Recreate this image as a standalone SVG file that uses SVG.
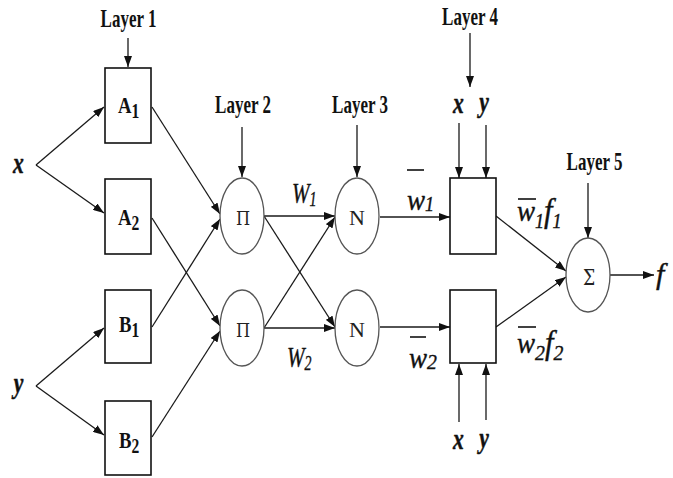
<svg xmlns="http://www.w3.org/2000/svg" width="673" height="478" viewBox="0 0 673 478">
<defs>
<marker id="ah" markerUnits="userSpaceOnUse" markerWidth="11" markerHeight="8" refX="11" refY="4" orient="auto">
<path d="M0,0 L11,4 L0,8 Z" fill="#111"/>
</marker>
<style>
.c{stroke:#1a1a1a;stroke-width:1.3;fill:none;marker-end:url(#ah)}
.bx{stroke:#111;stroke-width:1.6;fill:#fff}
.el{stroke:#555;stroke-width:1.3;fill:#fff}
.ly{font-family:"Liberation Serif",serif;font-weight:bold;font-size:25px;fill:#111;text-anchor:middle}
.b{font-family:"Liberation Serif",serif;font-weight:bold;font-size:24px;fill:#111}
.r{font-family:"Liberation Serif",serif;font-size:22px;fill:#222;text-anchor:middle}
.g{font-family:"DejaVu Serif","Liberation Serif",serif;fill:#222;text-anchor:middle}
.i{font-family:"Liberation Serif",serif;font-style:italic;font-size:30px;fill:#111;stroke:#111;stroke-width:0.4}
.bi{font-family:"Liberation Serif",serif;font-style:italic;font-weight:bold;font-size:30px;fill:#111;stroke:#111;stroke-width:0.5;text-anchor:middle}
.bar{stroke:#111;stroke-width:1.6}
</style>
</defs>
<g id="connectors">
<line class="c" x1="36" y1="165" x2="104" y2="107"/>
<line class="c" x1="36" y1="165" x2="104" y2="213"/>
<line class="c" x1="36" y1="386" x2="104" y2="328"/>
<line class="c" x1="36" y1="386" x2="104" y2="435"/>
<line class="c" x1="128" y1="38" x2="128" y2="67"/>
<line class="c" x1="152" y1="107" x2="220" y2="214"/>
<line class="c" x1="152" y1="218" x2="220" y2="326"/>
<line class="c" x1="152" y1="327" x2="220" y2="219"/>
<line class="c" x1="152" y1="437" x2="220" y2="331"/>
<line class="c" x1="242" y1="127" x2="242" y2="177"/>
<line class="c" x1="357" y1="125" x2="357" y2="177"/>
<line class="c" x1="264" y1="216" x2="335" y2="216"/>
<line class="c" x1="264" y1="216" x2="335" y2="327"/>
<line class="c" x1="264" y1="328" x2="335" y2="217"/>
<line class="c" x1="264" y1="328" x2="335" y2="328"/>
<line class="c" x1="380" y1="217" x2="450" y2="217"/>
<line class="c" x1="380" y1="327" x2="450" y2="327"/>
<line class="c" x1="470" y1="33" x2="470" y2="87"/>
<line class="c" x1="459" y1="123" x2="459" y2="178"/>
<line class="c" x1="486" y1="125" x2="486" y2="178"/>
<line class="c" x1="459" y1="422" x2="459" y2="364"/>
<line class="c" x1="486" y1="420" x2="486" y2="364"/>
<line class="c" x1="496" y1="216" x2="566" y2="271"/>
<line class="c" x1="496" y1="327" x2="566" y2="277"/>
<line class="c" x1="588" y1="183" x2="588" y2="238"/>
<line class="c" x1="610" y1="275" x2="654" y2="275"/>
</g>
<g id="A1"><rect class="bx" x="105" y="68" width="46" height="75"/><text class="b" transform="matrix(0.78,0,0,1,118,113)">A<tspan font-size="20" dy="5">1</tspan></text></g>
<g id="A2"><rect class="bx" x="105" y="179" width="46" height="75"/><text class="b" transform="matrix(0.78,0,0,1,118,225)">A<tspan font-size="20" dy="5">2</tspan></text></g>
<g id="B1"><rect class="bx" x="105" y="290" width="46" height="73"/><text class="b" transform="matrix(0.78,0,0,1,119,332)">B<tspan font-size="20" dy="5">1</tspan></text></g>
<g id="B2"><rect class="bx" x="105" y="401" width="46" height="74"/><text class="b" transform="matrix(0.78,0,0,1,119,448)">B<tspan font-size="20" dy="5">2</tspan></text></g>
<g id="P1"><ellipse class="el" cx="242" cy="216" rx="22" ry="38"/><text class="g" font-size="18" transform="matrix(0.9,0,0,1,243,225)">Π</text></g>
<g id="P2"><ellipse class="el" cx="242" cy="328" rx="22" ry="38"/><text class="g" font-size="18" transform="matrix(0.9,0,0,1,243,337)">Π</text></g>
<g id="N1"><ellipse class="el" cx="357" cy="216" rx="22" ry="38"/><text class="r" x="357" y="225">N</text></g>
<g id="N2"><ellipse class="el" cx="357" cy="328" rx="22" ry="38"/><text class="r" x="357" y="337">N</text></g>
<g id="R1"><rect class="bx" x="450" y="178" width="46" height="76"/></g>
<g id="R2"><rect class="bx" x="450" y="290" width="46" height="73"/></g>
<g id="S"><ellipse class="el" cx="588" cy="275" rx="22" ry="37"/><text class="g" font-size="23" transform="matrix(0.75,0,0,1,589,285)">Σ</text></g>
<g id="labels">
<text class="ly" transform="matrix(0.68,0,0,1,128.5,27)">Layer 1</text>
<text class="ly" transform="matrix(0.68,0,0,1,243,113)">Layer 2</text>
<text class="ly" transform="matrix(0.68,0,0,1,360,113)">Layer 3</text>
<text class="ly" transform="matrix(0.68,0,0,1,470,25)">Layer 4</text>
<text class="ly" transform="matrix(0.68,0,0,1,594.5,170)">Layer 5</text>
<text class="bi" transform="matrix(0.72,0,0,1,18.5,173)">x</text>
<text class="bi" transform="matrix(0.72,0,0,1,18.5,393)">y</text>
<text class="bi" transform="matrix(0.72,0,0,1,458.5,113)">x</text>
<text class="bi" transform="matrix(0.72,0,0,1,484,112)">y</text>
<text class="bi" transform="matrix(0.72,0,0,1,458.5,449)">x</text>
<text class="bi" transform="matrix(0.72,0,0,1,484,448)">y</text>
<text class="i" font-size="28" transform="matrix(0.7,0,0,1,292,203)">W<tspan font-size="20" dy="3">1</tspan></text>
<text class="i" font-size="28" transform="matrix(0.7,0,0,1,287,367)">W<tspan font-size="20" dy="3">2</tspan></text>
<line class="bar" x1="407" y1="170" x2="424" y2="170"/>
<text class="i" transform="matrix(0.9,0,0,1,407,210)">w<tspan font-size="20" dy="1">1</tspan></text>
<line class="bar" x1="410" y1="337" x2="426" y2="337"/>
<text class="i" transform="matrix(0.9,0,0,1,409,368)">w<tspan font-size="22" dy="1">2</tspan></text>
<line class="bar" x1="518" y1="199" x2="536" y2="199"/>
<text class="i" transform="matrix(0.9,0,0,1,517,221)">w<tspan font-size="20" dy="7">1</tspan><tspan font-size="34" dy="-6">f</tspan><tspan font-size="20" dy="6">1</tspan></text>
<line class="bar" x1="518" y1="327" x2="536" y2="327"/>
<text class="i" transform="matrix(0.9,0,0,1,517,353)">w<tspan font-size="22" dy="7">2</tspan><tspan font-size="34" dy="-6">f</tspan><tspan font-size="22" dy="6">2</tspan></text>
<text class="i" font-size="34" x="656" y="284">f</text>
</g>
</svg>
